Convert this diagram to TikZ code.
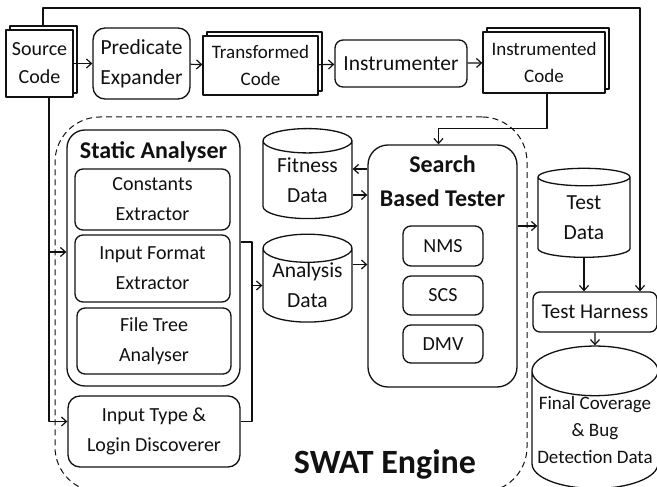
\documentclass[tikz,border=0pt]{standalone}
\usepackage{fontspec}
\setmainfont{Carlito}
\usepackage{tikz}
\definecolor{ink}{HTML}{111111}
\usetikzlibrary{
  arrows.meta,
  positioning,
  calc,
  shapes.geometric,
  shadows
}
\newcommand{\fsz}[2]{\fontsize{#1}{#2}\selectfont}
\tikzset{
  >={Straight Barb[length=5pt,width=9pt]},
  every picture/.style={line join=round},
  every node/.style={font=\fsz{20}{28}, text=ink},
  box/.style={
    draw=ink,
    fill=white,
    line width=1.3pt,
    rounded corners=8pt,
    align=center,
    inner sep=0pt
  },
  group/.style={box, rounded corners=18pt},
  doc/.style={
    draw=ink,
    fill=white,
    line width=1.3pt,
    align=center,
    inner sep=0pt,
    copy shadow={shadow xshift=4pt, shadow yshift=4pt}
  },
  store/.style={
    cylinder,
    shape border rotate=90,
    aspect=0.4,
    draw=ink,
    fill=white,
    line width=1.3pt,
    align=center,
    inner sep=0pt,
    font=\fsz{21.5}{30}
  },
  engine/.style={draw=ink, line width=1pt, dash pattern=on 6pt off 4pt, rounded corners=45pt, inner sep=0pt},
  heading/.style={font=\bfseries\fsz{24}{34}, align=center},
  arr/.style={->, line width=1.2pt, draw=ink},
  wire/.style={line width=1.2pt, draw=ink}
}

\begin{document}
\begin{tikzpicture}[x=1pt, y=-1pt]
  \useasboundingbox (0,0) rectangle (657,487);

  % SWAT engine boundary
  \node[engine, minimum width=472pt, minimum height=375pt] (swat) at (291,304.5) {};
  \node[font=\bfseries\fsz{34}{40}] (swatlbl) at (385,464) {SWAT Engine};

  % Top row
  \node[doc, minimum width=67pt, minimum height=67pt] (src) at (39.5,63.5) {Source\\Code};
  \node[box, rounded corners=12pt, minimum width=97pt, minimum height=71pt, font=\fsz{21.5}{30}] (pe) at (141.5,63.5) {Predicate\\Expander};
  \node[doc, minimum width=115pt, minimum height=59pt, font=\fsz{19}{27}] (tc) at (260.5,65.5) {Transformed\\Code};
  \node[box, minimum width=132pt, minimum height=47pt, font=\fsz{21.5}{28}] (instr) at (401,63.5) {Instrumenter};
  \node[doc, minimum width=122pt, minimum height=61pt, font=\fsz{19}{27}] (ic) at (544,62.5) {Instrumented\\Code};

  % Static analyser
  \node[group, minimum width=173pt, minimum height=256pt] (sa) at (153.5,258) {};
  \node[heading, below=9pt of sa.north] (satitle) {Static Analyser};
  \node[box, minimum width=155pt, minimum height=61pt, font=\fsz{20}{30}] (ce) at (152.5,199.5) {Constants\\Extractor};
  \node[box, minimum width=155pt, minimum height=67pt, font=\fsz{20}{30}] (ife) at (152.5,268.5) {Input Format\\Extractor};
  \node[box, minimum width=154pt, minimum height=66pt, font=\fsz{20}{30}] (fta) at (154,341) {File Tree\\Analyser};
  \node[box, rounded corners=12pt, minimum width=172pt, minimum height=71pt, font=\fsz{20}{30}] (itl) at (154,431.5) {Input Type \&\\Login Discoverer};

  % Data stores
  \node[store, minimum width=89pt, minimum height=90pt] (fit) at (307.5,180) {Fitness\\Data};
  \node[store, minimum width=89pt, minimum height=85pt] (ana) at (307.5,285.5) {Analysis\\Data};

  % Search based tester
  \node[group, rounded corners=20pt, minimum width=149pt, minimum height=242pt] (sbt) at (442.5,266) {};
  \node[heading, below=8pt of sbt.north] (sbttitle) {Search\\Based Tester};
  \node[box, minimum width=80pt, minimum height=40pt] (nms) at (443,246) {NMS};
  \node[box, minimum width=80pt, minimum height=39pt] (scs) at (443,295.5) {SCS};
  \node[box, minimum width=80pt, minimum height=38pt] (dmv) at (443,344) {DMV};

  % Output side
  \node[store, aspect=0.43, minimum width=92pt, minimum height=89pt] (td) at (584,217.5) {Test\\Data};
  \node[box, rounded corners=7pt, minimum width=124pt, minimum height=40pt, font=\fsz{21}{28}] (th) at (595,312) {Test Harness};
  \node[store, aspect=0.43, minimum width=126pt, minimum height=134pt, font=\fsz{19}{27}] (fcd) at (595,430) {Final Coverage\\\& Bug\\Detection Data};

  % Top row flow
  \draw[arr] (src) -- (pe);
  \draw[arr] (pe) -- (tc);
  \draw[arr] (tc) -- (instr);
  \draw[arr] (instr) -- (ic);

  % Source code to test harness
  \coordinate (topR) at (640,8);
  \draw[arr] ($(src.north)+(3.5,-4)$) |- (topR) -- (topR |- th.north);

  % Source code into the engine
  \coordinate (srcL) at (49,0);
  \draw[arr] (srcL |- src.south) |- ([yshift=10pt]itl.west);
  \draw[arr] (srcL |- sa.west) ++(0,-6) -- ([yshift=6pt]sa.west);

  % Instrumented code to tester
  \draw[arr] ([xshift=3pt]ic.south) -- ++(0,35) -| ([xshift=-4pt]sbt.north);

  % Analysers to analysis data
  \coordinate (join) at (252,0);
  \draw[wire] ([yshift=16pt]sa.east) -| ([yshift=10pt]itl.east -| join) -- ([yshift=10pt]itl.east);
  \draw[arr] (join |- ana.west) -- (ana.west);

  % Data to and from tester
  \draw[arr] ([yshift=11pt]fit.east -| sbt.west) -- ([yshift=11pt]fit.east);
  \draw[arr] ([yshift=-15pt]fit.east) -- ([yshift=-15pt]fit.east -| sbt.west);
  \draw[arr] ([yshift=21pt]ana.east) -- ([yshift=21pt]ana.east -| sbt.west);

  % Tester to outputs
  \draw[arr] ([yshift=40pt]sbt.east) -- ([yshift=40pt]sbt.east -| td.west);
  \draw[arr] (td.south) -- (td.south |- th.north);
  \draw[arr] (th.south) -- (fcd.north);
\end{tikzpicture}
\end{document}
